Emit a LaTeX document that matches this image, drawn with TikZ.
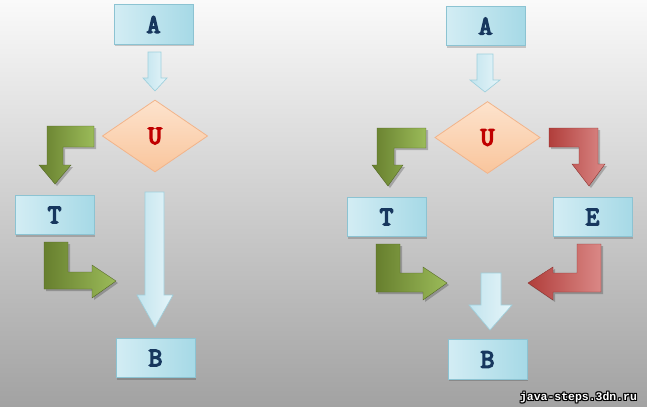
\documentclass[tikz,border=0pt]{standalone}
\usepackage{fontspec}
\usetikzlibrary{shapes.geometric}
\newfontfamily\boxfont{Latin Modern Mono}[FakeBold=5]
\newfontfamily\wmfont{Liberation Mono}
\definecolor{bgtop}{HTML}{FAFAFA}
\definecolor{bgbot}{HTML}{A2A2A2}
\definecolor{boxl}{HTML}{D3EDF4}
\definecolor{boxr}{HTML}{A6D9E6}
\definecolor{boxb}{HTML}{8CC3D2}
\definecolor{navy}{HTML}{17375E}
\definecolor{darkred}{HTML}{C00000}
\definecolor{peachl}{HTML}{FDE3CD}
\definecolor{peachd}{HTML}{F9C59C}
\definecolor{peachb}{HTML}{F2B48A}
\definecolor{grd}{HTML}{677F2E}
\definecolor{grl}{HTML}{9BBB59}
\definecolor{rdd}{HTML}{B13E3B}
\definecolor{rdl}{HTML}{DA8886}
\definecolor{arl}{HTML}{C2E4EE}
\definecolor{arr}{HTML}{E6F5F9}
\definecolor{arb}{HTML}{9FD0DD}
\tikzset{
  px/.style={x=0.75pt,y=-0.75pt},
  box/.style={draw=boxb, line width=0.6pt, left color=boxl, right color=boxr,
    minimum width=59.25pt, minimum height=29.5pt, inner sep=0pt,
    font=\boxfont\fontsize{20}{20}\selectfont, text=navy},
  dia/.style={shape=diamond, draw=peachb, line width=0.6pt, top color=peachl, bottom color=peachd,
    minimum width=79pt, minimum height=54pt, inner sep=0pt,
    font=\boxfont\fontsize{20}{20}\selectfont, text=darkred},
  shad/.style={fill=black, opacity=0.22},
  greenar/.style={left color=grd, right color=grl, draw=grd!80!black, line width=0.3pt},
  redar/.style={left color=rdd, right color=rdl, draw=rdd!80!black, line width=0.3pt},
  bluear/.style={left color=arl, right color=arr, draw=arb, line width=0.5pt},
}
\begin{document}
\begin{tikzpicture}[px]
\shade[top color=bgtop, bottom color=bgbot] (0,0) rectangle (647,407);
\useasboundingbox (0,0) rectangle (647,407);

% box shadows
\foreach \cx/\cy in {153.5/24.5, 54.5/215, 155.5/358, 485.5/26, 386.5/217, 592.5/217, 487.5/359.5}
  \fill[black, opacity=0.18] (\cx-38.5,\cy-18.5) rectangle (\cx+40.5,\cy+21.5);

% ---------- left diagram ----------
\node[box] (A1) at (153.5,24.5) {A};
\node[dia] (U1) at (155,136) {U};
\node[box] (T1) at (54.5,215) {T};
\node[box] (B1) at (155.5,358) {B};

% A1 -> U1
\path[bluear] (148,52) -- (161,52) -- (161,78) -- (167,78) -- (155,91) -- (143,78) -- (148,78) -- cycle;
% U1 -> B1 long
\path[bluear] (145,192) -- (164,192) -- (164,295) -- (173,295) -- (155,327) -- (137,295) -- (145,295) -- cycle;
% U1 -> T1 green
\path[shad] (96,128) -- (49,128) -- (49,167) -- (41,167) -- (57,186) -- (73,167) -- (65,167) -- (65,149) -- (96,149) -- cycle;
\path[greenar] (94,126) -- (47,126) -- (47,165) -- (39,165) -- (55,184) -- (71,165) -- (63,165) -- (63,147) -- (94,147) -- cycle;
% T1 -> B1 green
\path[shad] (46,244) -- (70,244) -- (70,274) -- (94,274) -- (94,267) -- (118,283) -- (94,300) -- (94,291) -- (46,291) -- cycle;
\path[greenar] (44,242) -- (68,242) -- (68,272) -- (92,272) -- (92,265) -- (116,281) -- (92,298) -- (92,289) -- (44,289) -- cycle;

% ---------- right diagram ----------
\node[box] (A2) at (485.5,26) {A};
\node[dia] (U2) at (487.5,137.5) {U};
\node[box] (T2) at (386.5,217) {T};
\node[box] (E2) at (592.5,217) {E};
\node[box] (B2) at (487.5,359.5) {B};

% A2 -> U2
\path[bluear] (477,54) -- (493,54) -- (493,80) -- (500,80) -- (485,92) -- (470,80) -- (477,80) -- cycle;
% U2 -> T2 green
\path[shad] (428,130) -- (379,130) -- (379,167) -- (374,167) -- (390,188) -- (405,167) -- (396,167) -- (396,150) -- (428,150) -- cycle;
\path[greenar] (426,128) -- (377,128) -- (377,165) -- (372,165) -- (388,186) -- (403,165) -- (394,165) -- (394,148) -- (426,148) -- cycle;
% U2 -> E2 red
\path[shad] (551,130) -- (600,130) -- (600,166) -- (607,166) -- (591,188) -- (574,166) -- (581,166) -- (581,149) -- (551,149) -- cycle;
\path[redar] (549,128) -- (598,128) -- (598,164) -- (605,164) -- (589,186) -- (572,164) -- (579,164) -- (579,147) -- (549,147) -- cycle;
% T2 -> B2 green
\path[shad] (378,246) -- (402,246) -- (402,275) -- (425,275) -- (425,269) -- (449,285) -- (425,302) -- (425,294) -- (378,294) -- cycle;
\path[greenar] (376,244) -- (400,244) -- (400,273) -- (423,273) -- (423,267) -- (447,283) -- (423,300) -- (423,292) -- (376,292) -- cycle;
% E2 -> B2 red
\path[shad] (603,246) -- (579,246) -- (579,275) -- (555,275) -- (555,269) -- (530,285) -- (555,302) -- (555,294) -- (603,294) -- cycle;
\path[redar] (601,244) -- (577,244) -- (577,273) -- (553,273) -- (553,267) -- (528,283) -- (553,300) -- (553,292) -- (601,292) -- cycle;
% -> B2 blue
\path[bluear] (481,273) -- (501,273) -- (501,305) -- (512,305) -- (490,330) -- (469,305) -- (481,305) -- cycle;

% watermark
\foreach \dx/\dy [count=\k] in {-1/0, 1/0, 0/-1, 0/1, -1/-1, 1/1, -1/1, 1/-1}
  \node[font=\wmfont\bfseries\fontsize{8.6}{9}\selectfont, text=black, inner sep=0pt]
    (wms\k) at (578.5+\dx,397.5+\dy) {java-steps.3dn.ru};
\node[font=\wmfont\bfseries\fontsize{8.6}{9}\selectfont, text=white, inner sep=0pt]
  (wm) at (578.5,397.5) {java-steps.3dn.ru};
\end{tikzpicture}
\end{document}
